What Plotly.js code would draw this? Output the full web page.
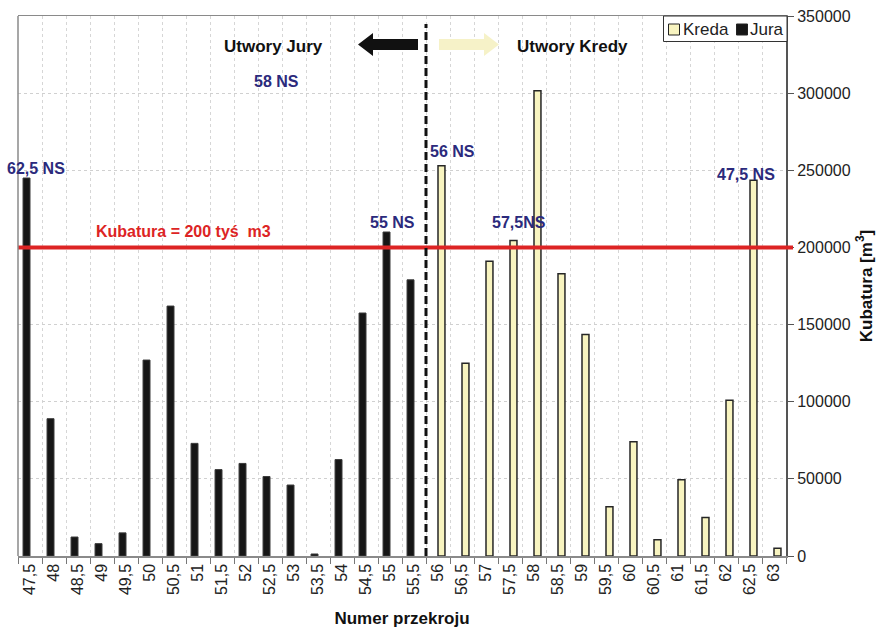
<!DOCTYPE html>
<html>
<head>
<meta charset="utf-8">
<script src="https://cdn.plot.ly/plotly-3.0.1.min.js"></script>
<style>html,body{margin:0;padding:0;background:#fff;}#chart{width:884px;height:628px;}</style>
</head>
<body>
<div id="chart"></div>
<script>
// ---- data ----
const categories = ['47,5','48','48,5','49','49,5','50','50,5','51','51,5','52','52,5','53','53,5','54','54,5','55','55,5',
                    '56','56,5','57','57,5','58','58,5','59','59,5','60','60,5','61','61,5','62','62,5','63'];
const juraValues = [245000, 89000, 12300, 8000, 15000, 127000, 162000, 73000, 56000, 60000, 51500, 46000, 1300, 62500, 157500, 210000, 179000,
                    null, null, null, null, null, null, null, null, null, null, null, null, null, null, null];
const kredaValues = [null, null, null, null, null, null, null, null, null, null, null, null, null, null, null, null, null,
                     253000, 125000, 191000, 204500, 301500, 183000, 143500, 32000, 74000, 10500, 49500, 25000, 101000, 243500, 5000];
const seriesNames = ['Jura', 'Kreda'];
const thresholdValue = 200000;
const thresholdLabel = 'Kubatura = 200 tyś&nbsp;&nbsp;m3';
const nsLabels = ['62,5 NS', '58 NS', '55 NS', '56 NS', '57,5NS', '47,5 NS'];
const regionLabels = ['Utwory Jury', 'Utwory Kredy'];
const yTickValues = [0, 50000, 100000, 150000, 200000, 250000, 300000, 350000];

// ---- layout helpers (pixel -> paper) ----
const L = 18, R = 786, T = 16, B = 556;
const px = v => (v - L) / (R - L);
const py = v => (B - v) / (B - T);

function arrowPath(tipX, baseX, tailX, cy, headH, bodyH) {
  const pts = [
    [tipX, cy], [baseX, cy - headH], [baseX, cy - bodyH], [tailX, cy - bodyH],
    [tailX, cy + bodyH], [baseX, cy + bodyH], [baseX, cy + headH]
  ];
  return 'M' + pts.map(p => px(p[0]).toFixed(5) + ',' + py(p[1]).toFixed(5)).join(' L') + ' Z';
}

const font = '"Liberation Sans", Arial, sans-serif';
const nsColor = '#2b2a7c';
const juraColor = '#161616', kredaColor = '#f8f4c0';

const traces = [
  {
    type: 'bar', name: seriesNames[0], x: categories, y: juraValues, showlegend: false,
    marker: {color: juraColor, line: {color: '#3a3a3a', width: 1}}
  },
  {
    type: 'bar', name: seriesNames[1], x: categories, y: kredaValues, showlegend: false,
    marker: {color: kredaColor, line: {color: '#262626', width: 1.5}}
  }
];

const nsPos = [[35.5, 168.5], [276, 81.5], [392.5, 222.5], [452.5, 151], [519, 222.5], [746, 175]];

const annotations = nsLabels.map((t, i) => ({
  text: '<b>' + t + '</b>', xref: 'paper', yref: 'paper',
  x: px(nsPos[i][0]), y: py(nsPos[i][1]), xanchor: 'center', yanchor: 'middle',
  showarrow: false, font: {family: font, size: 16, color: nsColor}
}));
annotations.push({
  text: '<b>' + regionLabels[0] + '</b>', xref: 'paper', yref: 'paper',
  x: px(273), y: py(46), xanchor: 'center', yanchor: 'middle', showarrow: false,
  font: {family: font, size: 17, color: '#111'}
});
annotations.push({
  text: '<b>' + regionLabels[1] + '</b>', xref: 'paper', yref: 'paper',
  x: px(572), y: py(46), xanchor: 'center', yanchor: 'middle', showarrow: false,
  font: {family: font, size: 17, color: '#111'}
});
annotations.push({
  text: '<b>' + thresholdLabel + '</b>', xref: 'paper', yref: 'paper',
  x: px(94), y: py(231.5), xanchor: 'left', yanchor: 'middle', showarrow: false,
  font: {family: font, size: 16, color: '#dd2424'}
});

const shapes = [
  {type: 'line', xref: 'paper', yref: 'y', x0: 0, x1: px(793), y0: thresholdValue, y1: thresholdValue,
   line: {color: '#dd2424', width: 4}, layer: 'above'},
  {type: 'line', xref: 'x', yref: 'paper', x0: 16.5, x1: 16.5, y0: 0, y1: py(24),
   line: {color: '#111', width: 3, dash: '8px,4px'}, layer: 'above'},
  {type: 'path', xref: 'paper', yref: 'paper', path: arrowPath(358, 373, 418, 44.5, 11.5, 5.5),
   fillcolor: '#111', line: {width: 0}},
  {type: 'path', xref: 'paper', yref: 'paper', path: arrowPath(499, 484, 439, 44.5, 11.5, 5.5),
   fillcolor: '#f6f2c8', line: {width: 0}},
  {type: 'line', xref: 'paper', yref: 'paper', x0: 0, x1: 0, y0: 0, y1: 1,
   line: {color: '#8a8a8a', width: 1.5}, layer: 'above'}
];

// ---- legend (Kreda first, then Jura), drawn with shapes + text ----
shapes.push({type: 'rect', xref: 'paper', yref: 'paper', x0: px(663.5), x1: px(787), y0: py(16), y1: py(41.5),
             fillcolor: '#fff', line: {color: '#333', width: 1}, layer: 'above'});
const legendItems = [
  {name: seriesNames[1], color: kredaColor, sq: 668.5, tx: 682},
  {name: seriesNames[0], color: juraColor, sq: 736.5, tx: 749}
];
legendItems.forEach(it => {
  shapes.push({type: 'rect', xref: 'paper', yref: 'paper', x0: px(it.sq), x1: px(it.sq + 11), y0: py(35), y1: py(24),
               fillcolor: it.color, line: {color: '#222', width: 1}, layer: 'above'});
  annotations.push({text: it.name, xref: 'paper', yref: 'paper', x: px(it.tx), y: py(29.5),
                    xanchor: 'left', yanchor: 'middle', showarrow: false, borderpad: 0,
                    font: {family: font, size: 17, color: '#222'}});
});

const layout = {
  width: 884, height: 628,
  margin: {l: L, r: 884 - R, t: T, b: 628 - B, pad: 0},
  paper_bgcolor: '#fff', plot_bgcolor: '#fff',
  font: {family: font, size: 16, color: '#222'},
  barmode: 'group', bargap: 0.42, bargroupgap: 0,
  showlegend: false,
  xaxis: {
    type: 'category', tickangle: -90, tickson: 'boundaries',
    ticks: 'outside', ticklen: 6, tickcolor: '#777', tickwidth: 1,
    showline: true, linecolor: '#8a8a8a', linewidth: 1.5, mirror: true,
    showgrid: true, gridcolor: '#d6d6d6', griddash: 'dot', gridwidth: 1,
    tickfont: {family: font, size: 16, color: '#222'},
    title: {text: '<b>Numer przekroju</b>', font: {family: font, size: 17, color: '#111'}, standoff: 18},
    automargin: false, fixedrange: true
  },
  yaxis: {
    side: 'right', range: [0, 350000], tickvals: yTickValues, ticktext: yTickValues.map(String),
    ticks: 'outside', ticklen: 6, tickcolor: '#555', tickwidth: 1,
    showline: true, linecolor: '#555', linewidth: 2, mirror: false,
    showgrid: true, gridcolor: '#d0d0d0', griddash: 'dot', gridwidth: 1,
    zeroline: false,
    tickfont: {family: font, size: 16, color: '#222'},
    title: {text: '<b>Kubatura [m<sup>3</sup>]</b>', font: {family: font, size: 17, color: '#111'}, standoff: 10},
    automargin: false, fixedrange: true
  },
  annotations: annotations,
  shapes: shapes
};

Plotly.newPlot('chart', traces, layout, {displayModeBar: false, staticPlot: true});
</script>
</body>
</html>
